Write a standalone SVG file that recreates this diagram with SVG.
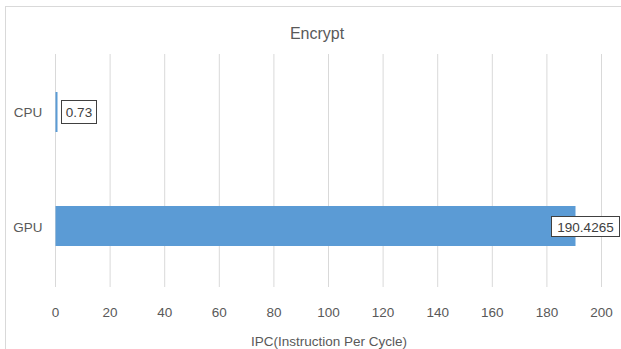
<svg xmlns="http://www.w3.org/2000/svg" width="621" height="349" viewBox="0 0 621 349">
  <style>
    text { font-family: "Liberation Sans", Arial, sans-serif; fill: #595959; }
    .grid { stroke: #d9d9d9; stroke-width: 1; }
    .tick { font-size: 13.5px; text-anchor: middle; }
    .cat { font-size: 13.5px; text-anchor: middle; }
    .bar { fill: #5b9bd5; }
    .lbl-box { fill: #ffffff; stroke: #404040; stroke-width: 1; }
    .lbl { font-size: 13.5px; text-anchor: middle; fill: #404040; }
  </style>

  <!-- chart area -->
  <rect x="0" y="0" width="621" height="349" fill="#ffffff"/>
  <rect x="5.5" y="6.5" width="640" height="360" fill="none" stroke="#d9d9d9"/>

  <text x="317" y="38.5" font-size="16" text-anchor="middle">Encrypt</text>

  <!-- gridlines -->
  <g id="gridlines">
    <line class="grid" x1="55.5" y1="54" x2="55.5" y2="287"/>
    <line class="grid" x1="110.1" y1="54" x2="110.1" y2="287"/>
    <line class="grid" x1="164.7" y1="54" x2="164.7" y2="287"/>
    <line class="grid" x1="219.3" y1="54" x2="219.3" y2="287"/>
    <line class="grid" x1="273.9" y1="54" x2="273.9" y2="287"/>
    <line class="grid" x1="328.5" y1="54" x2="328.5" y2="287"/>
    <line class="grid" x1="383.1" y1="54" x2="383.1" y2="287"/>
    <line class="grid" x1="437.7" y1="54" x2="437.7" y2="287"/>
    <line class="grid" x1="492.3" y1="54" x2="492.3" y2="287"/>
    <line class="grid" x1="546.9" y1="54" x2="546.9" y2="287"/>
    <line class="grid" x1="601.5" y1="54" x2="601.5" y2="287"/>
  </g>

  <!-- x axis labels -->
  <g id="x-axis">
    <text class="tick" x="55.5" y="316.5">0</text>
    <text class="tick" x="110.1" y="316.5">20</text>
    <text class="tick" x="164.7" y="316.5">40</text>
    <text class="tick" x="219.3" y="316.5">60</text>
    <text class="tick" x="273.9" y="316.5">80</text>
    <text class="tick" x="328.5" y="316.5">100</text>
    <text class="tick" x="383.1" y="316.5">120</text>
    <text class="tick" x="437.7" y="316.5">140</text>
    <text class="tick" x="492.3" y="316.5">160</text>
    <text class="tick" x="546.9" y="316.5">180</text>
    <text class="tick" x="601.5" y="316.5">200</text>
    <text class="tick" x="329" y="346">IPC(Instruction Per Cycle)</text>
  </g>

  <!-- CPU -->
  <g id="cpu">
    <text class="cat" x="28" y="117">CPU</text>
    <rect class="bar" x="55.5" y="92" width="2" height="40"/>
    <rect class="lbl-box" x="61.5" y="100.5" width="35" height="23"/>
    <text class="lbl" x="79" y="117">0.73</text>
  </g>

  <!-- GPU -->
  <g id="gpu">
    <text class="cat" x="28" y="231.5">GPU</text>
    <rect class="bar" x="55.5" y="206" width="520" height="40"/>
    <rect class="lbl-box" x="551.5" y="216.5" width="68" height="20"/>
    <text class="lbl" x="585.5" y="231.5">190.4265</text>
  </g>
</svg>
